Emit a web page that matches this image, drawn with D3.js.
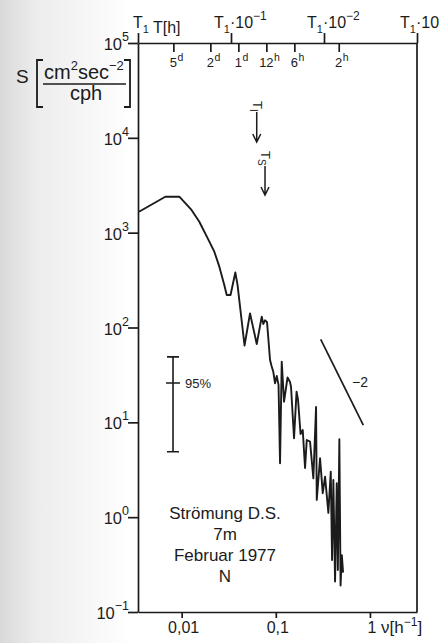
<!DOCTYPE html>
<html>
<head>
<meta charset="utf-8">
<script src="https://cdn.jsdelivr.net/npm/d3@7"></script>
<style>
  html, body { margin: 0; padding: 0; background: #fff; }
  svg { display: block; font-family: "Liberation Sans", Arial, sans-serif; }
</style>
</head>
<body>
<svg id="chart" width="439" height="643"></svg>
<script>
// Current spectrum: frequency (cycles per hour) and spectral density S (cm² sec⁻² / cph)
const freq = [
  0.00352, 0.00670, 0.00944, 0.01257, 0.01540, 0.01891, 0.02222, 0.02512, 0.02818, 0.03011,
  0.03304, 0.03715, 0.03921, 0.04653, 0.05323, 0.06271, 0.07088, 0.07371, 0.07683, 0.08070,
  0.08686, 0.09010, 0.09415, 0.09815, 0.1023, 0.1069, 0.1109, 0.1156, 0.1223, 0.1332,
  0.1416, 0.1451, 0.1562, 0.1661, 0.1723, 0.1832, 0.1933, 0.2045, 0.2132, 0.2311,
  0.2505, 0.2677, 0.2723, 0.2952, 0.3153, 0.3337, 0.3618, 0.3836, 0.3960, 0.4087,
  0.4261, 0.4441, 0.4563, 0.4733, 0.4875, 0.5030, 0.5183
];
const spec = [
  1663, 2394, 2394, 1764, 1305, 872, 630, 438, 288, 220,
  220, 380, 281, 64.6, 141, 67.0, 130, 109, 119, 114,
  45.4, 39.3, 33.9, 25.8, 30.8, 24.8, 3.70, 43.6, 16.5, 29.7,
  26.6, 23.6, 6.79, 21.0, 17.2, 7.53, 8.30, 3.30, 6.51, 6.25,
  2.57, 14.5, 1.52, 4.18, 1.79, 2.67, 1.11, 3.02, 0.353, 2.47,
  0.21, 2.28, 0.277, 6.62, 0.19, 0.398, 0.26
];

// Axes
const yTickValues = [1e5, 1e4, 1e3, 1e2, 1e1, 1e0, 1e-1];
const yTickExponents = ["5", "4", "3", "2", "1", "0", "\u22121"];
const xTickValues = [0.01, 0.1, 1];
const xTickLabels = ["0,01", "0,1", "1"];
const periodT1 = 288;                       // T1 in hours
const t1Exponents = [0, -1, -2, -3];        // T1·10^k marks on the period axis
const hourTickHours = [120, 48, 24, 12, 6, 2];
const hourTickNumbers = ["5", "2", "1", "12", "6", "2"];
const hourTickUnits = ["d", "d", "d", "h", "h", "h"];

// Marked periods (inertial and seiche)
const markFreq = [0.0627, 0.0768];
const markSub = ["I", "S"];

// 95% confidence interval: lower, centre, upper
const ciFreq = 0.00809;
const ciValues = [4.9, 26, 49];

// Reference slope ν^-2
const slopeFreq = [0.30, 0.85];
const slopeStart = 75;
const slopeExp = -2;

const noteLines = ["Str\u00f6mung D.S.", "7m", "Februar 1977", "N"];

// ---------------------------------------------------------------------------
const ink = "#1b1b1b";
const L = 138, R = 417, T = 43, B = 612;

const svg = d3.select("#chart");

// faint shading along the left border of the sheet
const defs = svg.append("defs");
const grad = defs.append("linearGradient").attr("id", "sheet").attr("x1", 0).attr("x2", 1).attr("y1", 0).attr("y2", 0);
grad.append("stop").attr("offset", "0").attr("stop-color", "#d9d9d9");
grad.append("stop").attr("offset", "0.08").attr("stop-color", "#ececec");
grad.append("stop").attr("offset", "0.3").attr("stop-color", "#ffffff");
grad.append("stop").attr("offset", "1").attr("stop-color", "#ffffff");
svg.append("rect").attr("width", 439).attr("height", 643).attr("fill", "url(#sheet)");

const x = d3.scaleLog().domain([Math.pow(10, -2.464), Math.pow(10, 0.5)]).range([L, R]);
const xTop = d3.scaleLog().domain([1 / periodT1, 1000 / periodT1]).range([L, R]);
const y = d3.scaleLog().domain([0.1, 1e5]).range([B, T]);

function styleAxis(g) {
  g.selectAll(".domain").attr("stroke", ink).attr("stroke-width", 1.7);
  g.selectAll(".tick line").attr("stroke", ink).attr("stroke-width", 1.7);
  g.selectAll(".tick text").remove();
}

// left axis
svg.append("g").attr("transform", `translate(${L},0)`)
  .call(d3.axisLeft(y).tickValues(yTickValues).tickSize(10).tickSizeOuter(0).tickFormat(""))
  .call(styleAxis);

// bottom axis
svg.append("g").attr("transform", `translate(0,${B})`)
  .call(d3.axisBottom(x).tickValues(xTickValues).tickSize(6).tickSizeOuter(0).tickFormat(""))
  .call(styleAxis);

// top period axis: T1·10^k marks upward, hour marks downward
const t1Freq = t1Exponents.map(k => Math.pow(10, -k) / periodT1);
svg.append("g").attr("transform", `translate(0,${T})`)
  .call(d3.axisTop(xTop).tickValues(t1Freq).tickSize(10).tickSizeOuter(0).tickFormat(""))
  .call(styleAxis);
const hourFreq = hourTickHours.map(h => 1 / h);
svg.append("g").attr("transform", `translate(0,${T})`)
  .call(d3.axisBottom(xTop).tickValues(hourFreq).tickSize(9).tickSizeOuter(0).tickFormat(""))
  .call(g => g.select(".domain").remove())
  .call(styleAxis);

// right frame
svg.append("line").attr("x1", R).attr("x2", R).attr("y1", T).attr("y2", B)
  .attr("stroke", ink).attr("stroke-width", 1.7);

// y tick labels 10^n
yTickValues.forEach((v, i) => {
  const t = svg.append("text").attr("x", L - 9).attr("y", y(v) + 7)
    .attr("text-anchor", "end").attr("fill", ink).attr("font-size", 16.5).text("10");
  t.append("tspan").attr("dy", -9).attr("font-size", 12.5).text(yTickExponents[i]);
});

// x tick labels
xTickValues.forEach((v, i) => {
  svg.append("text").attr("x", x(v) + 2).attr("y", 633).attr("text-anchor", "middle")
    .attr("fill", ink).attr("font-size", 16).text(xTickLabels[i]);
});
const nu = svg.append("text").attr("x", 381).attr("y", 633).attr("fill", ink).attr("font-size", 17);
nu.append("tspan").text("\u03bd[h");
nu.append("tspan").attr("dy", -7).attr("font-size", 12).text("\u22121");
nu.append("tspan").attr("dy", 7).text("]");

// top labels
t1Exponents.forEach((k, i) => {
  const xt = xTop(t1Freq[i]);
  const t = svg.append("text").attr("y", 28).attr("fill", ink).attr("font-size", 16)
    .attr("x", k === 0 ? xt - 5 : xt - 17);
  t.append("tspan").text("T");
  t.append("tspan").attr("dy", 5).attr("font-size", 11).text("1");
  if (k !== 0) {
    t.append("tspan").attr("dy", -5).text("\u00b710");
    t.append("tspan").attr("dy", -8).attr("font-size", 12).text("\u2212" + (-k));
  }
});
svg.append("text").attr("x", 153).attr("y", 33).attr("fill", ink).attr("font-size", 16).text("T[h]");

hourFreq.forEach((f, i) => {
  const xt = xTop(f);
  const num = svg.append("text").attr("x", xt).attr("y", 67).attr("text-anchor", "middle")
    .attr("fill", ink).attr("font-size", 13).text(hourTickNumbers[i]);
  const w = num.node().getComputedTextLength();
  svg.append("text").attr("x", xt + w / 2 + 0.5).attr("y", 61).attr("fill", ink)
    .attr("font-size", 10.5).text(hourTickUnits[i]);
});

// y axis title: S [cm²sec⁻² / cph]
svg.append("text").attr("x", 16).attr("y", 83).attr("fill", ink).attr("font-size", 19).text("S");
const num = svg.append("text").attr("x", 44).attr("y", 79).attr("fill", ink).attr("font-size", 20);
num.append("tspan").text("cm");
num.append("tspan").attr("dy", -9).attr("font-size", 13).text("2");
num.append("tspan").attr("dy", 9).text("sec");
num.append("tspan").attr("dy", -9).attr("font-size", 13).text("\u22122");
svg.append("line").attr("x1", 43).attr("x2", 126).attr("y1", 84).attr("y2", 84)
  .attr("stroke", ink).attr("stroke-width", 1.6);
svg.append("text").attr("x", 86).attr("y", 100).attr("text-anchor", "middle")
  .attr("fill", ink).attr("font-size", 20).text("cph");
svg.append("path").attr("d", "M43,60 H37 V107 H43 M124,60 H130 V107 H124")
  .attr("fill", "none").attr("stroke", ink).attr("stroke-width", 1.8);

// spectrum
const pts = freq.map((f, i) => [f, spec[i]]);
svg.append("path")
  .datum(pts)
  .attr("d", d3.line().x(d => x(d[0])).y(d => y(d[1])))
  .attr("fill", "none").attr("stroke", ink).attr("stroke-width", 1.9)
  .attr("stroke-linejoin", "round");

// period arrows
const arrowTop = [112, 166], arrowTip = [142, 195], labelTop = [101, 151];
markFreq.forEach((f, i) => {
  const xa = x(f);
  svg.append("path")
    .attr("d", `M${xa},${arrowTop[i]} V${arrowTip[i]} M${xa - 4},${arrowTip[i] - 8} L${xa},${arrowTip[i]} L${xa + 4},${arrowTip[i] - 8}`)
    .attr("fill", "none").attr("stroke", ink).attr("stroke-width", 1.5);
  const t = svg.append("text").attr("transform", `translate(${xa - 4},${labelTop[i]}) rotate(90)`)
    .attr("fill", ink).attr("font-size", 13);
  t.append("tspan").text("T");
  t.append("tspan").attr("dy", 3).attr("font-size", 10).text(markSub[i]);
});

// 95% confidence bar
const cx = x(ciFreq);
svg.append("path")
  .attr("d", `M${cx},${y(ciValues[2])} V${y(ciValues[0])}` +
             ` M${cx - 6},${y(ciValues[2])} H${cx + 6}` +
             ` M${cx - 6},${y(ciValues[0])} H${cx + 6}` +
             ` M${cx - 7},${y(ciValues[1])} H${cx + 7}`)
  .attr("fill", "none").attr("stroke", ink).attr("stroke-width", 1.6);
svg.append("text").attr("x", cx + 12).attr("y", y(ciValues[1]) + 5).attr("fill", ink)
  .attr("font-size", 13).text("95%");

// slope reference line
const s2 = slopeStart * Math.pow(slopeFreq[1] / slopeFreq[0], slopeExp);
svg.append("line")
  .attr("x1", x(slopeFreq[0])).attr("y1", y(slopeStart))
  .attr("x2", x(slopeFreq[1])).attr("y2", y(s2))
  .attr("stroke", ink).attr("stroke-width", 1.7);
svg.append("text").attr("x", 352).attr("y", 387).attr("fill", ink).attr("font-size", 14)
  .text("\u2212" + Math.abs(slopeExp));

// station note
noteLines.forEach((s, i) => {
  svg.append("text").attr("x", 225).attr("y", 519 + i * 21).attr("text-anchor", "middle")
    .attr("fill", ink).attr("font-size", 17).text(s);
});
</script>
</body>
</html>
